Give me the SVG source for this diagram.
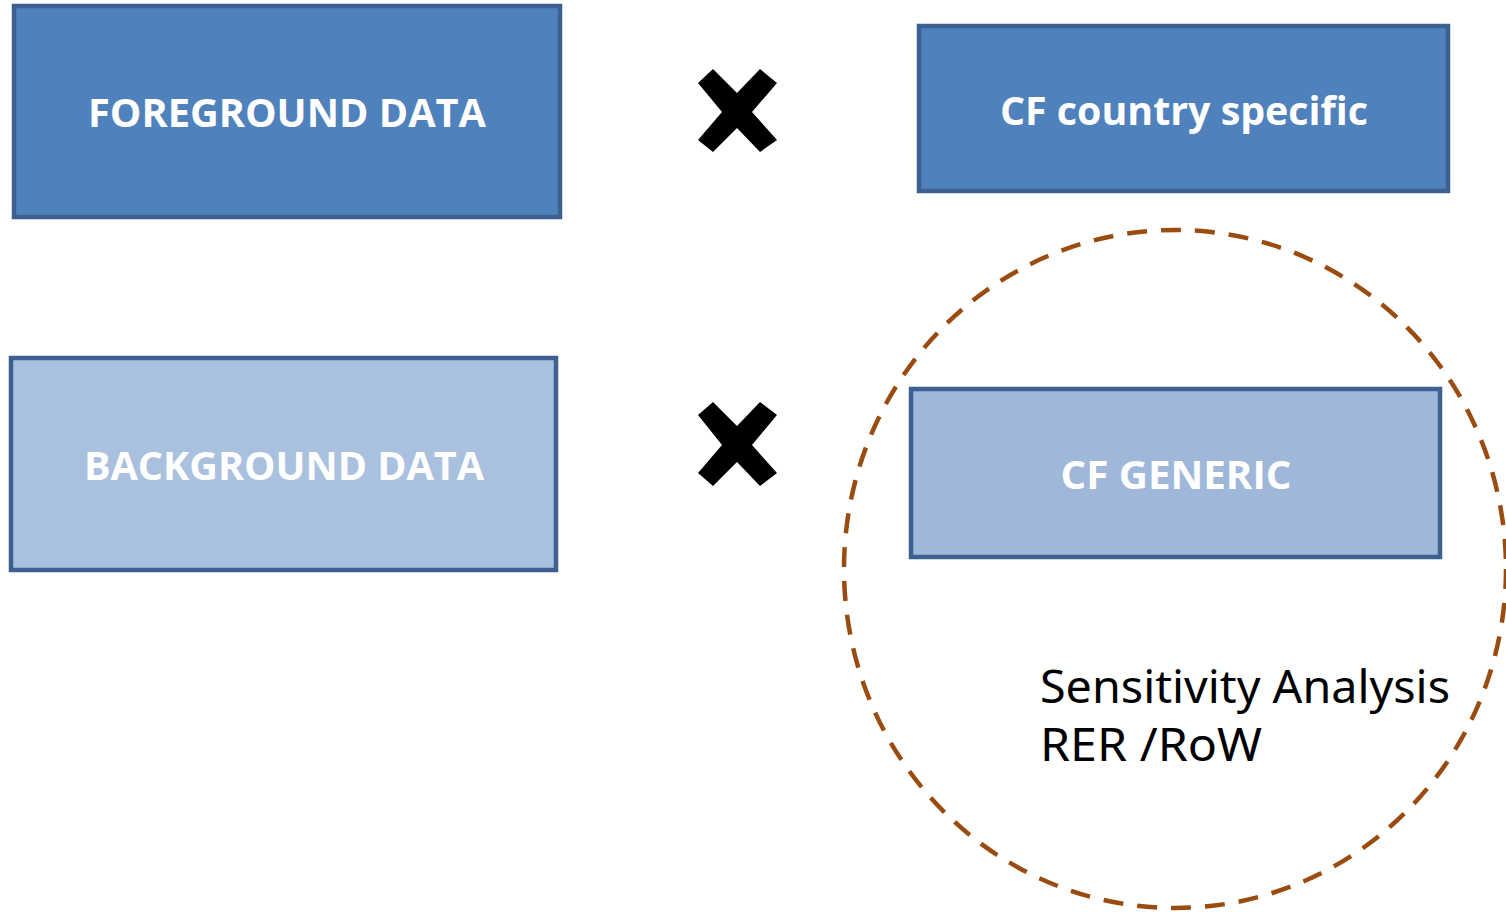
<svg xmlns="http://www.w3.org/2000/svg" width="1506" height="912" viewBox="0 0 1506 912">
<style>
.box{stroke:#3C6191;stroke-width:4.5}
.dark{fill:#4F81BD}
.light1{fill:#A9C1DF}
.light2{fill:#9FB8DA}
.lbl{font-family:"Open Sans","Liberation Sans",sans-serif;font-weight:bold;font-size:40px;fill:#fff;text-anchor:middle}
.note{font-family:"Noto Sans","Liberation Sans",sans-serif;font-size:46px;fill:#000}
.x{fill:#000}
</style>
<rect width="1506" height="912" fill="#fff"/>
<g id="connectors">
<ellipse cx="1175" cy="569" rx="331" ry="339" fill="none" stroke="#9A4C10" stroke-width="4.5" stroke-dasharray="20 14"/>
</g>
<g id="foreground">
<rect class="box dark" x="14" y="6" width="546" height="211"/>
<text class="lbl" x="287" y="127" textLength="398" lengthAdjust="spacingAndGlyphs">FOREGROUND DATA</text>
</g>
<g id="cf-country">
<rect class="box dark" x="919" y="26" width="529" height="165"/>
<text class="lbl" x="1184" y="125" textLength="368" lengthAdjust="spacingAndGlyphs">CF country specific</text>
</g>
<g id="background">
<rect class="box light1" x="11" y="358" width="545" height="212"/>
<text class="lbl" x="284" y="480" textLength="400" lengthAdjust="spacingAndGlyphs">BACKGROUND DATA</text>
</g>
<g id="cf-generic">
<rect class="box light2" x="911" y="389" width="529" height="168"/>
<text class="lbl" x="1176" y="489" textLength="231" lengthAdjust="spacingAndGlyphs">CF GENERIC</text>
</g>
<g id="times1">
<polygon class="x" points="698,83 713,69 737,93 760,69 777,83 752,112 777,140 760,152 737,128 713,152 698,140 722,112"/>
</g>
<g id="times2">
<polygon class="x" points="698,415 713,402 737,426 760,402 777,415 752,445 777,473 760,486 737,462 713,486 698,473 722,445"/>
</g>
<g id="sensitivity">
<text class="note" x="1040" y="703" textLength="410" lengthAdjust="spacingAndGlyphs">Sensitivity Analysis</text>
<text class="note" x="1040" y="761" textLength="222" lengthAdjust="spacingAndGlyphs">RER /RoW</text>
</g>
</svg>
